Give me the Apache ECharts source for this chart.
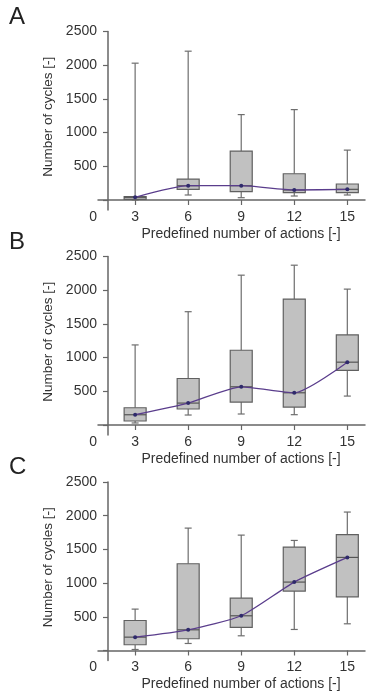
<!DOCTYPE html>
<html>
<head>
<meta charset="utf-8">
<script src="https://cdn.jsdelivr.net/npm/echarts@6/dist/echarts.min.js"></script>
<style>
  html, body { margin: 0; padding: 0; background: #fff; }
  #chart { width: 366px; height: 695px; }
</style>
</head>
<body>
<div id="chart"></div>
<script>
// predefined number of actions (x positions of the boxes)
const actions = [3, 6, 9, 12, 15];
const yTicks = [0, 500, 1000, 1500, 2000, 2500];
const panelNames = ['A', 'B', 'C'];

// panel A
const minA = [0, 74, 34, 59, 74];
const q1A = [8, 158, 123, 108, 108];
const medA = [40, 212, 212, 148, 158];
const q3A = [50, 310, 725, 389, 237];
const maxA = [2030, 2208, 1267, 1341, 740];

// panel B
const minB = [30, 148, 163, 153, 429];
const q1B = [59, 237, 340, 266, 809];
const medB = [152, 325, 567, 478, 932];
const q3B = [256, 690, 1109, 1868, 1336];
const maxB = [1188, 1681, 2223, 2371, 2016];

// panel C
const minC = [15, 104, 218, 312, 396];
const q1C = [85, 174, 342, 881, 797];
const medC = [198, 307, 515, 1015, 1381];
const q3C = [445, 1287, 777, 1534, 1718];
const maxC = [614, 1816, 1712, 1633, 2054];

const panels = [
  { min: minA, q1: q1A, med: medA, q3: q3A, max: maxA },
  { min: minB, q1: q1B, med: medB, q3: q3B, max: maxB },
  { min: minC, q1: q1C, med: medC, q3: q3C, max: maxC },
];

const font = 'Liberation Sans, Arial, sans-serif';
const axisColor = '#666';
const textColor = '#333';
const gridTops = [31.5, 256.5, 482];
const gridHeight = 178.6;
const yMin = -150;
const yMax = 2500;
// pixels between value 0 and yMin, so the x axis sits on zero
const zeroShift = (0 - yMin) / (yMax - yMin) * gridHeight;

function renderBox(params, api) {
  const x = api.value(0);
  const lo = api.coord([x, api.value(1)]);
  const q1 = api.coord([x, api.value(2)]);
  const md = api.coord([x, api.value(3)]);
  const q3 = api.coord([x, api.value(4)]);
  const hi = api.coord([x, api.value(5)]);
  const cx = lo[0];
  const half = 11;
  const cap = 3.5;
  const wStyle = { stroke: '#6e6e6e', lineWidth: 1.2, fill: null };
  return {
    type: 'group',
    children: [
      { type: 'line', shape: { x1: cx, y1: hi[1], x2: cx, y2: q3[1] }, style: wStyle },
      { type: 'line', shape: { x1: cx - cap, y1: hi[1], x2: cx + cap, y2: hi[1] }, style: wStyle },
      { type: 'line', shape: { x1: cx, y1: q1[1], x2: cx, y2: lo[1] }, style: wStyle },
      { type: 'line', shape: { x1: cx - cap, y1: lo[1], x2: cx + cap, y2: lo[1] }, style: wStyle },
      {
        type: 'rect',
        shape: { x: cx - half, y: q3[1], width: half * 2, height: q1[1] - q3[1] },
        style: { fill: '#c1c1c1', stroke: '#606060', lineWidth: 1.2 },
      },
      { type: 'line', shape: { x1: cx - half, y1: md[1], x2: cx + half, y2: md[1] }, style: { stroke: '#555', lineWidth: 1.2 } },
    ],
  };
}

const grid = [];
const xAxis = [];
const yAxis = [];
const series = [];
const title = [];

panels.forEach((p, i) => {
  grid.push({ left: 98, width: 267, top: gridTops[i], height: gridHeight });

  title.push({
    text: panelNames[i],
    left: 9,
    top: gridTops[i] - 26.5,
    padding: 0,
    textStyle: { fontSize: 24, fontWeight: 'normal', color: '#222', fontFamily: font },
  });

  xAxis.push({
    type: 'value',
    gridIndex: i,
    min: 0.9,
    max: 16,
    offset: -zeroShift,
    axisLine: { onZero: false, lineStyle: { color: axisColor, width: 1.5 } },
    axisTick: { customValues: actions, length: 5, lineStyle: { color: axisColor, width: 1.2 } },
    axisLabel: { customValues: actions, margin: 10, fontSize: 14, color: textColor, fontFamily: font },
    splitLine: { show: false },
    name: 'Predefined number of actions [-]',
    nameLocation: 'middle',
    nameGap: 27,
    nameTextStyle: { fontSize: 14, color: textColor, fontFamily: font, padding: [0, 0, 0, 19] },
  });

  yAxis.push({
    type: 'value',
    gridIndex: i,
    min: yMin,
    max: yMax,
    offset: -10,
    axisLine: { show: true, onZero: false, lineStyle: { color: axisColor, width: 1.5 } },
    axisTick: { show: true, customValues: yTicks, length: 5, lineStyle: { color: axisColor, width: 1.2 } },
    axisLabel: {
      customValues: yTicks,
      margin: 11,
      fontSize: 14,
      color: textColor,
      fontFamily: font,
      // the origin "0" sits below the x axis, next to the other labels
      formatter: (v) => (v === 0 ? '{o|0}' : String(v)),
      rich: { o: { fontSize: 14, color: textColor, fontFamily: font, padding: [34, 0, 0, 0] } },
    },
    splitLine: { show: false },
    name: 'Number of cycles [-]',
    nameLocation: 'middle',
    nameGap: 50,
    nameTextStyle: { fontSize: 13.5, color: textColor, fontFamily: font, padding: [0, 0, 0, 8] },
  });

  series.push({
    type: 'custom',
    xAxisIndex: i,
    yAxisIndex: i,
    renderItem: renderBox,
    encode: { x: 0, y: [1, 2, 3, 4, 5] },
    data: actions.map((a, k) => [a, p.min[k], p.q1[k], p.med[k], p.q3[k], p.max[k]]),
    z: 2,
  });

  series.push({
    type: 'line',
    xAxisIndex: i,
    yAxisIndex: i,
    data: actions.map((a, k) => [a, p.med[k]]),
    smooth: 0.2,
    symbol: 'circle',
    symbolSize: 4,
    itemStyle: { color: '#2f2a6b' },
    lineStyle: { color: '#5a3d8c', width: 1.3 },
    z: 3,
  });
});

const chart = echarts.init(document.getElementById('chart'));
chart.setOption({
  animation: false,
  textStyle: { fontFamily: font },
  title,
  grid,
  xAxis,
  yAxis,
  series,
});
</script>
</body>
</html>
